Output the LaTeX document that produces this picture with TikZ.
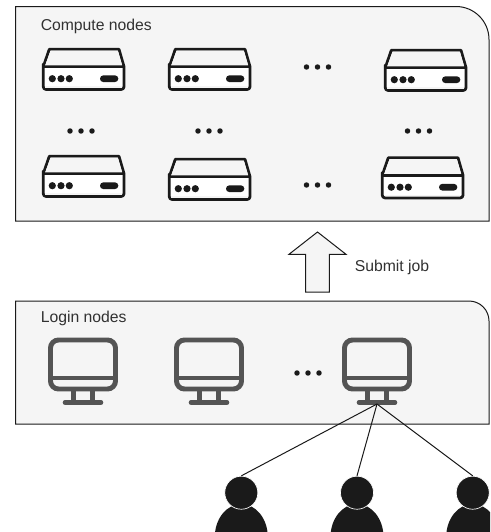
\documentclass[tikz,border=0pt]{standalone}
\usepackage{fontspec}
\setmainfont{Liberation Sans}
\definecolor{framefill}{HTML}{F5F5F5}
\definecolor{ink}{HTML}{1A1A1A}
\definecolor{monitorgrey}{HTML}{545454}
\tikzset{
  x=0.75pt,y=-0.75pt,
  frame/.style={draw=ink,fill=framefill,line width=0.75pt},
  lab/.style={anchor=base west,inner sep=0pt,text=ink!90,font=\fontsize{11.8}{14}\selectfont},
  dotmark/.style={circle,fill=ink,inner sep=0pt,minimum size=4.1pt},
  conn/.style={draw=ink,line width=0.75pt},
  head/.style={circle,fill=ink,draw=white,line width=0.5pt,inner sep=0pt,minimum size=24.8pt},
  server/.pic={
    \draw[ink,line width=2.1pt,line join=round,fill=white]
      (1.3,18.7) -- (7.3,1.3) -- (77,1.3) -- (82,18.7)
      [rounded corners=2pt] -- (82,41.4) -- (1.3,41.4) -- (1.3,18.7) [sharp corners] -- cycle;
    \draw[ink,line width=2.1pt] (1.3,18.7) -- (82,18.7);
    \fill[framefill] (3,38.2) rectangle (80.3,39.8);
    \fill[framefill] (8.6,2.7) -- (75.9,2.7) -- (80.2,17.3) -- (3.2,17.3) -- cycle;
    \fill[ink] (10.3,30.7) circle[radius=2.7pt] (19,30.7) circle[radius=2.7pt] (27.3,30.7) circle[radius=2.7pt];
    \fill[ink,rounded corners=2.4pt] (58,27.4) rectangle (76.3,34);
  },
  monitor/.pic={
    \draw[monitorgrey,line width=3.7pt,rounded corners=6pt] (-32.5,-38) rectangle (32.5,11);
    \draw[monitorgrey,line width=3.7pt] (-32.5,0) -- (32.5,0);
    \draw[monitorgrey,line width=3.7pt] (-9.5,11) -- (-9.5,24) (9.5,11) -- (9.5,24);
    \draw[monitorgrey,line width=3.4pt,line cap=round] (-18,24.5) -- (18,24.5);
  },
  userbody/.pic={
    \fill[ink] (-26.5,42) -- (-26.5,37) arc[x radius=26.5,y radius=33,start angle=180,end angle=360] -- (26.5,42) -- cycle;
  }
}
\begin{document}
\begin{tikzpicture}
\useasboundingbox (0,0) rectangle (490,532);
\clip (0,0) rectangle (490,532);
% frames
\draw[frame] (15.5,6.5) -- (456,6.5) arc[radius=33,start angle=-90,end angle=0] -- (489,221) -- (15.5,221) -- cycle;
\draw[frame] (15.5,301) -- (469,301) arc[radius=20,start angle=-90,end angle=0] -- (489,424) -- (15.5,424) -- cycle;
\node[lab] (computelabel) at (40.5,30.7) {Compute nodes};
\node[lab] (loginlabel) at (40.5,322.7) {Login nodes};
% servers
\pic at (42,48) {server};
\pic at (168,48) {server};
\pic at (384,49) {server};
\pic at (42,155) {server};
\pic at (168,158) {server};
\pic at (381,156.5) {server};
% ellipses
\foreach \nm/\cx/\cy in {a/317.5/67,b/81/131,c/209/131,d/418.5/131,e/317.5/185,f/308/373}{
  \node[dotmark] (dots\nm l) at (\cx-11,\cy) {};
  \node[dotmark] (dots\nm m) at (\cx,\cy) {};
  \node[dotmark] (dots\nm r) at (\cx+11,\cy) {};
}
% arrow
\draw[frame,line join=miter] (317.5,232) -- (346,254.3) -- (329.3,254.3) -- (329.3,292) -- (305.7,292) -- (305.7,254.3) -- (289,254.3) -- cycle;
\node[lab] (submit) at (354.5,271.7) {Submit job};
% monitors
\pic at (83,378) {monitor};
\pic at (209,378) {monitor};
\pic at (377,378) {monitor};
\coordinate (mon) at (377,404);
% users
\foreach \nm/\cx in {1/241.3,2/357,3/472.7}{
  \pic at (\cx,500) {userbody};
  \node[head] (user\nm) at (\cx,492.7) {};
}
\draw[conn] (mon) -- (user1.north);
\draw[conn] (mon) -- (user2.north);
\draw[conn] (mon) -- (user3.north);
\end{tikzpicture}
\end{document}
